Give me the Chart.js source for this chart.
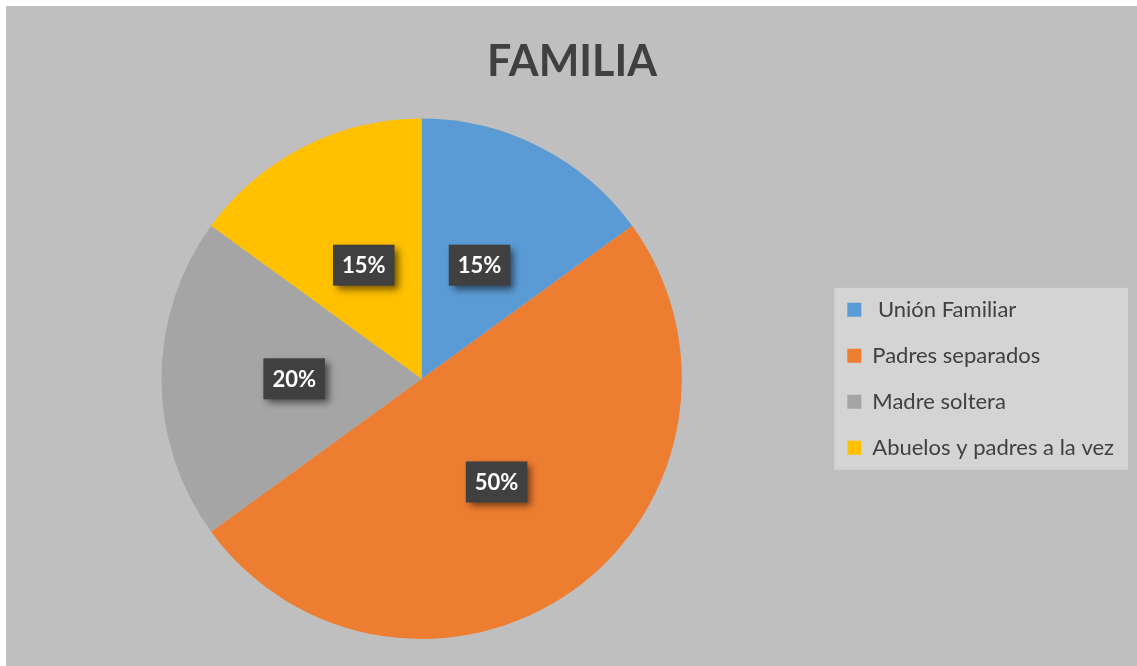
<!DOCTYPE html>
<html lang="es">
<head>
<meta charset="UTF-8">
<title>FAMILIA</title>
<script src="https://cdn.jsdelivr.net/npm/chart.js"></script>
<style>
  body { margin: 0; background: #ffffff; }
  #marco { position: absolute; left: 6px; top: 6px; width: 1131px; height: 660px; background: #bfbfbf; }
</style>
</head>
<body>
<div id="marco"><canvas id="graficoFamilia" width="1131" height="660"></canvas></div>
<script>
// datos
const categorias = [' Unión Familiar', 'Padres separados', 'Madre soltera', 'Abuelos y padres a la vez'];
const porcentajes = [15, 50, 20, 15];
const colores = ['#5b9bd5', '#ed7d31', '#a5a5a5', '#ffc000'];

const fuente = 'Lato, "Open Sans", sans-serif';

// caja gris clara detras de la leyenda
const fondoLeyenda = {
  id: 'fondoLeyenda',
  beforeDraw(chart) {
    const cajas = chart.legend && chart.legend.legendHitBoxes;
    if (!cajas || !cajas.length) return;
    const ctx = chart.ctx;
    let izq = Infinity, der = -Infinity, arr = Infinity, aba = -Infinity;
    cajas.forEach(c => {
      izq = Math.min(izq, c.left); der = Math.max(der, c.left + c.width);
      arr = Math.min(arr, c.top); aba = Math.max(aba, c.top + c.height);
    });
    ctx.save();
    ctx.fillStyle = '#d4d4d4';
    ctx.fillRect(izq - 13, arr - 11, der - izq + 27, aba - arr + 22);
    ctx.restore();
  }
};

// etiquetas de porcentaje en cajas oscuras
const etiquetas = {
  id: 'etiquetas',
  afterDatasetsDraw(chart) {
    const ctx = chart.ctx;
    const meta = chart.getDatasetMeta(0);
    ctx.save();
    ctx.font = 'bold 22px ' + fuente;
    ctx.textAlign = 'center';
    ctx.textBaseline = 'middle';
    meta.data.forEach((arco, i) => {
      const p = arco.getProps(['x', 'y', 'startAngle', 'endAngle', 'outerRadius'], true);
      const medio = (p.startAngle + p.endAngle) / 2;
      const r = p.outerRadius * 0.49;
      const cx = p.x + Math.cos(medio) * r;
      const cy = p.y + Math.sin(medio) * r;
      const texto = porcentajes[i] + '%';
      const w = ctx.measureText(texto).width + 18;
      const h = 41;
      ctx.shadowColor = 'rgba(0,0,0,0.55)';
      ctx.shadowBlur = 7;
      ctx.shadowOffsetX = 4;
      ctx.shadowOffsetY = 4;
      ctx.fillStyle = '#404040';
      ctx.fillRect(cx - w / 2, cy - h / 2, w, h);
      ctx.shadowColor = 'transparent';
      ctx.fillStyle = '#ffffff';
      ctx.fillText(texto, cx, cy + 1);
    });
    ctx.restore();
  }
};

new Chart(document.getElementById('graficoFamilia').getContext('2d'), {
  type: 'pie',
  data: {
    labels: categorias,
    datasets: [{
      data: porcentajes,
      backgroundColor: colores,
      borderWidth: 0
    }]
  },
  options: {
    responsive: false,
    animation: false,
    layout: { padding: { left: 14, right: 13, bottom: 27 } },
    plugins: {
      title: {
        display: true,
        text: 'FAMILIA',
        color: '#404040',
        font: { family: fuente, size: 43, weight: 'bold', lineHeight: 1.2 },
        padding: { top: 30, bottom: 31 }
      },
      legend: {
        position: 'right',
        fullSize: false,
        labels: {
          color: '#404040',
          font: { family: fuente, size: 22 },
          boxWidth: 14,
          boxHeight: 14,
          padding: 24
        }
      },
      tooltip: { enabled: false }
    }
  },
  plugins: [fondoLeyenda, etiquetas]
});
</script>
</body>
</html>
